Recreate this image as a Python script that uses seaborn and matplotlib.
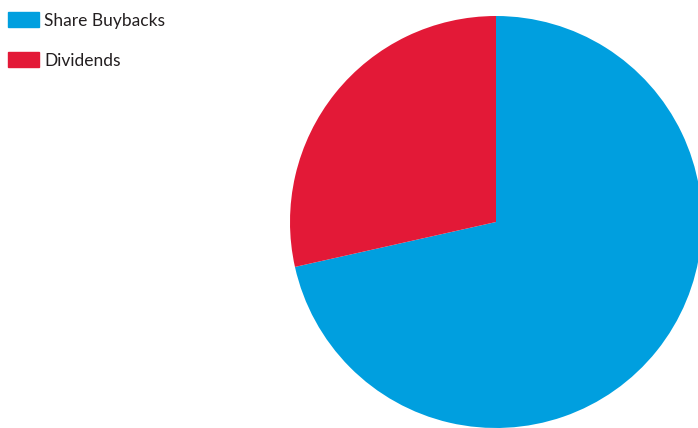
import matplotlib
matplotlib.use("Agg")
import matplotlib.pyplot as plt
import matplotlib.patches as mpatches
import seaborn as sns

categories = ["Share Buybacks", "Dividends"]
values = [71.5, 28.5]
colors = ["#009FDF", "#E31937"]

sns.set_theme(style="white")
plt.rcParams["font.family"] = ["Lato", "DejaVu Sans"]

W, H = 698, 428
fig = plt.figure(figsize=(W / 100, H / 100), dpi=100)
fig.patch.set_facecolor("white")

cx, cy, r = 496, 222, 206
ax = fig.add_axes([(cx - r) / W, (H - cy - r) / H, 2 * r / W, 2 * r / H])
pal = sns.color_palette(colors)
ax.pie(values, colors=pal, startangle=90, counterclock=False, radius=1,
       wedgeprops=dict(linewidth=0))
ax.set_xlim(-1, 1)
ax.set_ylim(-1, 1)
ax.set_aspect("auto")
ax.axis("off")

handles = [mpatches.Patch(color=c, label=l) for c, l in zip(pal, categories)]
fig.legend(handles=handles, loc="upper left", bbox_to_anchor=(5 / W, 1 - 9 / H),
           frameon=False, fontsize=12.5, handlelength=1.75, handleheight=0.95,
           handletextpad=0.3, labelspacing=1.35, borderaxespad=0, borderpad=0.2,
           labelcolor="#231F20")

fig.savefig("out.png", dpi=100, facecolor="white")
